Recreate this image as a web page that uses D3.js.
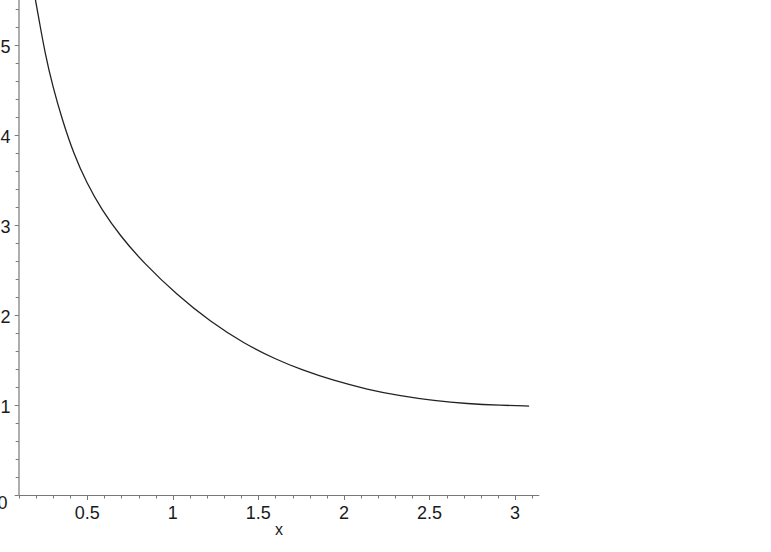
<!DOCTYPE html>
<html>
<head>
<meta charset="utf-8">
<script src="https://cdn.jsdelivr.net/npm/d3@7"></script>
<style>
  body { margin: 0; background: #fff; }
  text { font-family: "Liberation Sans", Arial, sans-serif; fill: #1a1a1a; }
</style>
</head>
<body>
<div id="viz"></div>
<script>
(function () {
  // values
  var xValues = [0.198, 0.219, 0.254, 0.299, 0.355, 0.420, 0.498, 0.586, 0.693, 0.829,
                 1.025, 1.219, 1.414, 1.610, 1.746, 1.941, 2.136, 2.331, 2.526, 2.721,
                 2.916, 3.082];
  var yValues = [5.5, 5.278, 4.908, 4.537, 4.167, 3.797, 3.463, 3.167, 2.88, 2.58,
                 2.222, 1.926, 1.686, 1.5, 1.397, 1.27, 1.174, 1.1, 1.048, 1.014,
                 0.996, 0.988];

  var xTickLabels = [0.5, 1, 1.5, 2, 2.5, 3];
  var yTickLabels = [1, 2, 3, 4, 5];
  var xLabel = 'x';

  var width = 771, height = 552;

  var svg = d3.select('#viz')
    .append('svg')
    .attr('width', width)
    .attr('height', height);

  var x = d3.scaleLinear()
    .domain([0.1, Math.PI])
    .range([18.7, 539.3]);

  var y = d3.scaleLinear()
    .domain([0, 5.5])
    .range([495, 0]);

  var axisColor = '#777';

  // minor ticks
  var xMinor = d3.range(1, 32).map(function (i) { return i / 10; });
  var yMinor = d3.range(0, 28).map(function (i) { return i / 5; });

  var gx = svg.append('g');
  gx.append('line')
    .attr('x1', x(0.1)).attr('x2', x(Math.PI))
    .attr('y1', y(0) + 0.5).attr('y2', y(0) + 0.5)
    .attr('stroke', axisColor).attr('stroke-width', 1.2);
  gx.selectAll('.minor')
    .data(xMinor)
    .enter().append('line')
    .attr('x1', function (d) { return Math.round(x(d)) + 0.5; })
    .attr('x2', function (d) { return Math.round(x(d)) + 0.5; })
    .attr('y1', y(0))
    .attr('y2', function (d) { return y(0) + (Math.abs(d * 2 - Math.round(d * 2)) < 1e-6 ? 5 : 3.5); })
    .attr('stroke', axisColor);
  gx.selectAll('.lab')
    .data(xTickLabels)
    .enter().append('text')
    .attr('x', function (d) { return x(d); })
    .attr('y', 519)
    .attr('text-anchor', 'middle')
    .style('font-size', '18px')
    .text(function (d) { return d; });
  gx.append('text')
    .attr('x', 279)
    .attr('y', 535)
    .attr('text-anchor', 'middle')
    .style('font-size', '16px')
    .text(xLabel);

  var gy = svg.append('g');
  gy.append('line')
    .attr('x1', x(0.1) + 0.3).attr('x2', x(0.1) + 0.3)
    .attr('y1', y(0)).attr('y2', 0)
    .attr('stroke', axisColor).attr('stroke-width', 1.2);
  gy.selectAll('.minor')
    .data(yMinor)
    .enter().append('line')
    .attr('x1', function (d) { return x(0.1) - (Math.abs(d - Math.round(d)) < 1e-6 ? 4 : 3); })
    .attr('x2', x(0.1))
    .attr('y1', function (d) { return Math.round(y(d)) + 0.5; })
    .attr('y2', function (d) { return Math.round(y(d)) + 0.5; })
    .attr('stroke', axisColor);
  gy.selectAll('.lab')
    .data(yTickLabels)
    .enter().append('text')
    .attr('x', 10.5)
    .attr('y', function (d) { return y(d) + 8.3; })
    .attr('text-anchor', 'end')
    .style('font-size', '18px')
    .text(function (d) { return d; });
  // origin label, partly off the left edge as in the original
  gy.append('text')
    .attr('x', 7.5)
    .attr('y', 509)
    .attr('text-anchor', 'end')
    .style('font-size', '18px')
    .text('0');

  var line = d3.line()
    .x(function (d) { return x(d[0]); })
    .y(function (d) { return y(d[1]); })
    .curve(d3.curveBasis);

  svg.append('path')
    .datum(d3.zip(xValues, yValues))
    .attr('d', line)
    .attr('fill', 'none')
    .attr('stroke', '#222')
    .attr('stroke-width', 1.3);
})();
</script>
</body>
</html>
